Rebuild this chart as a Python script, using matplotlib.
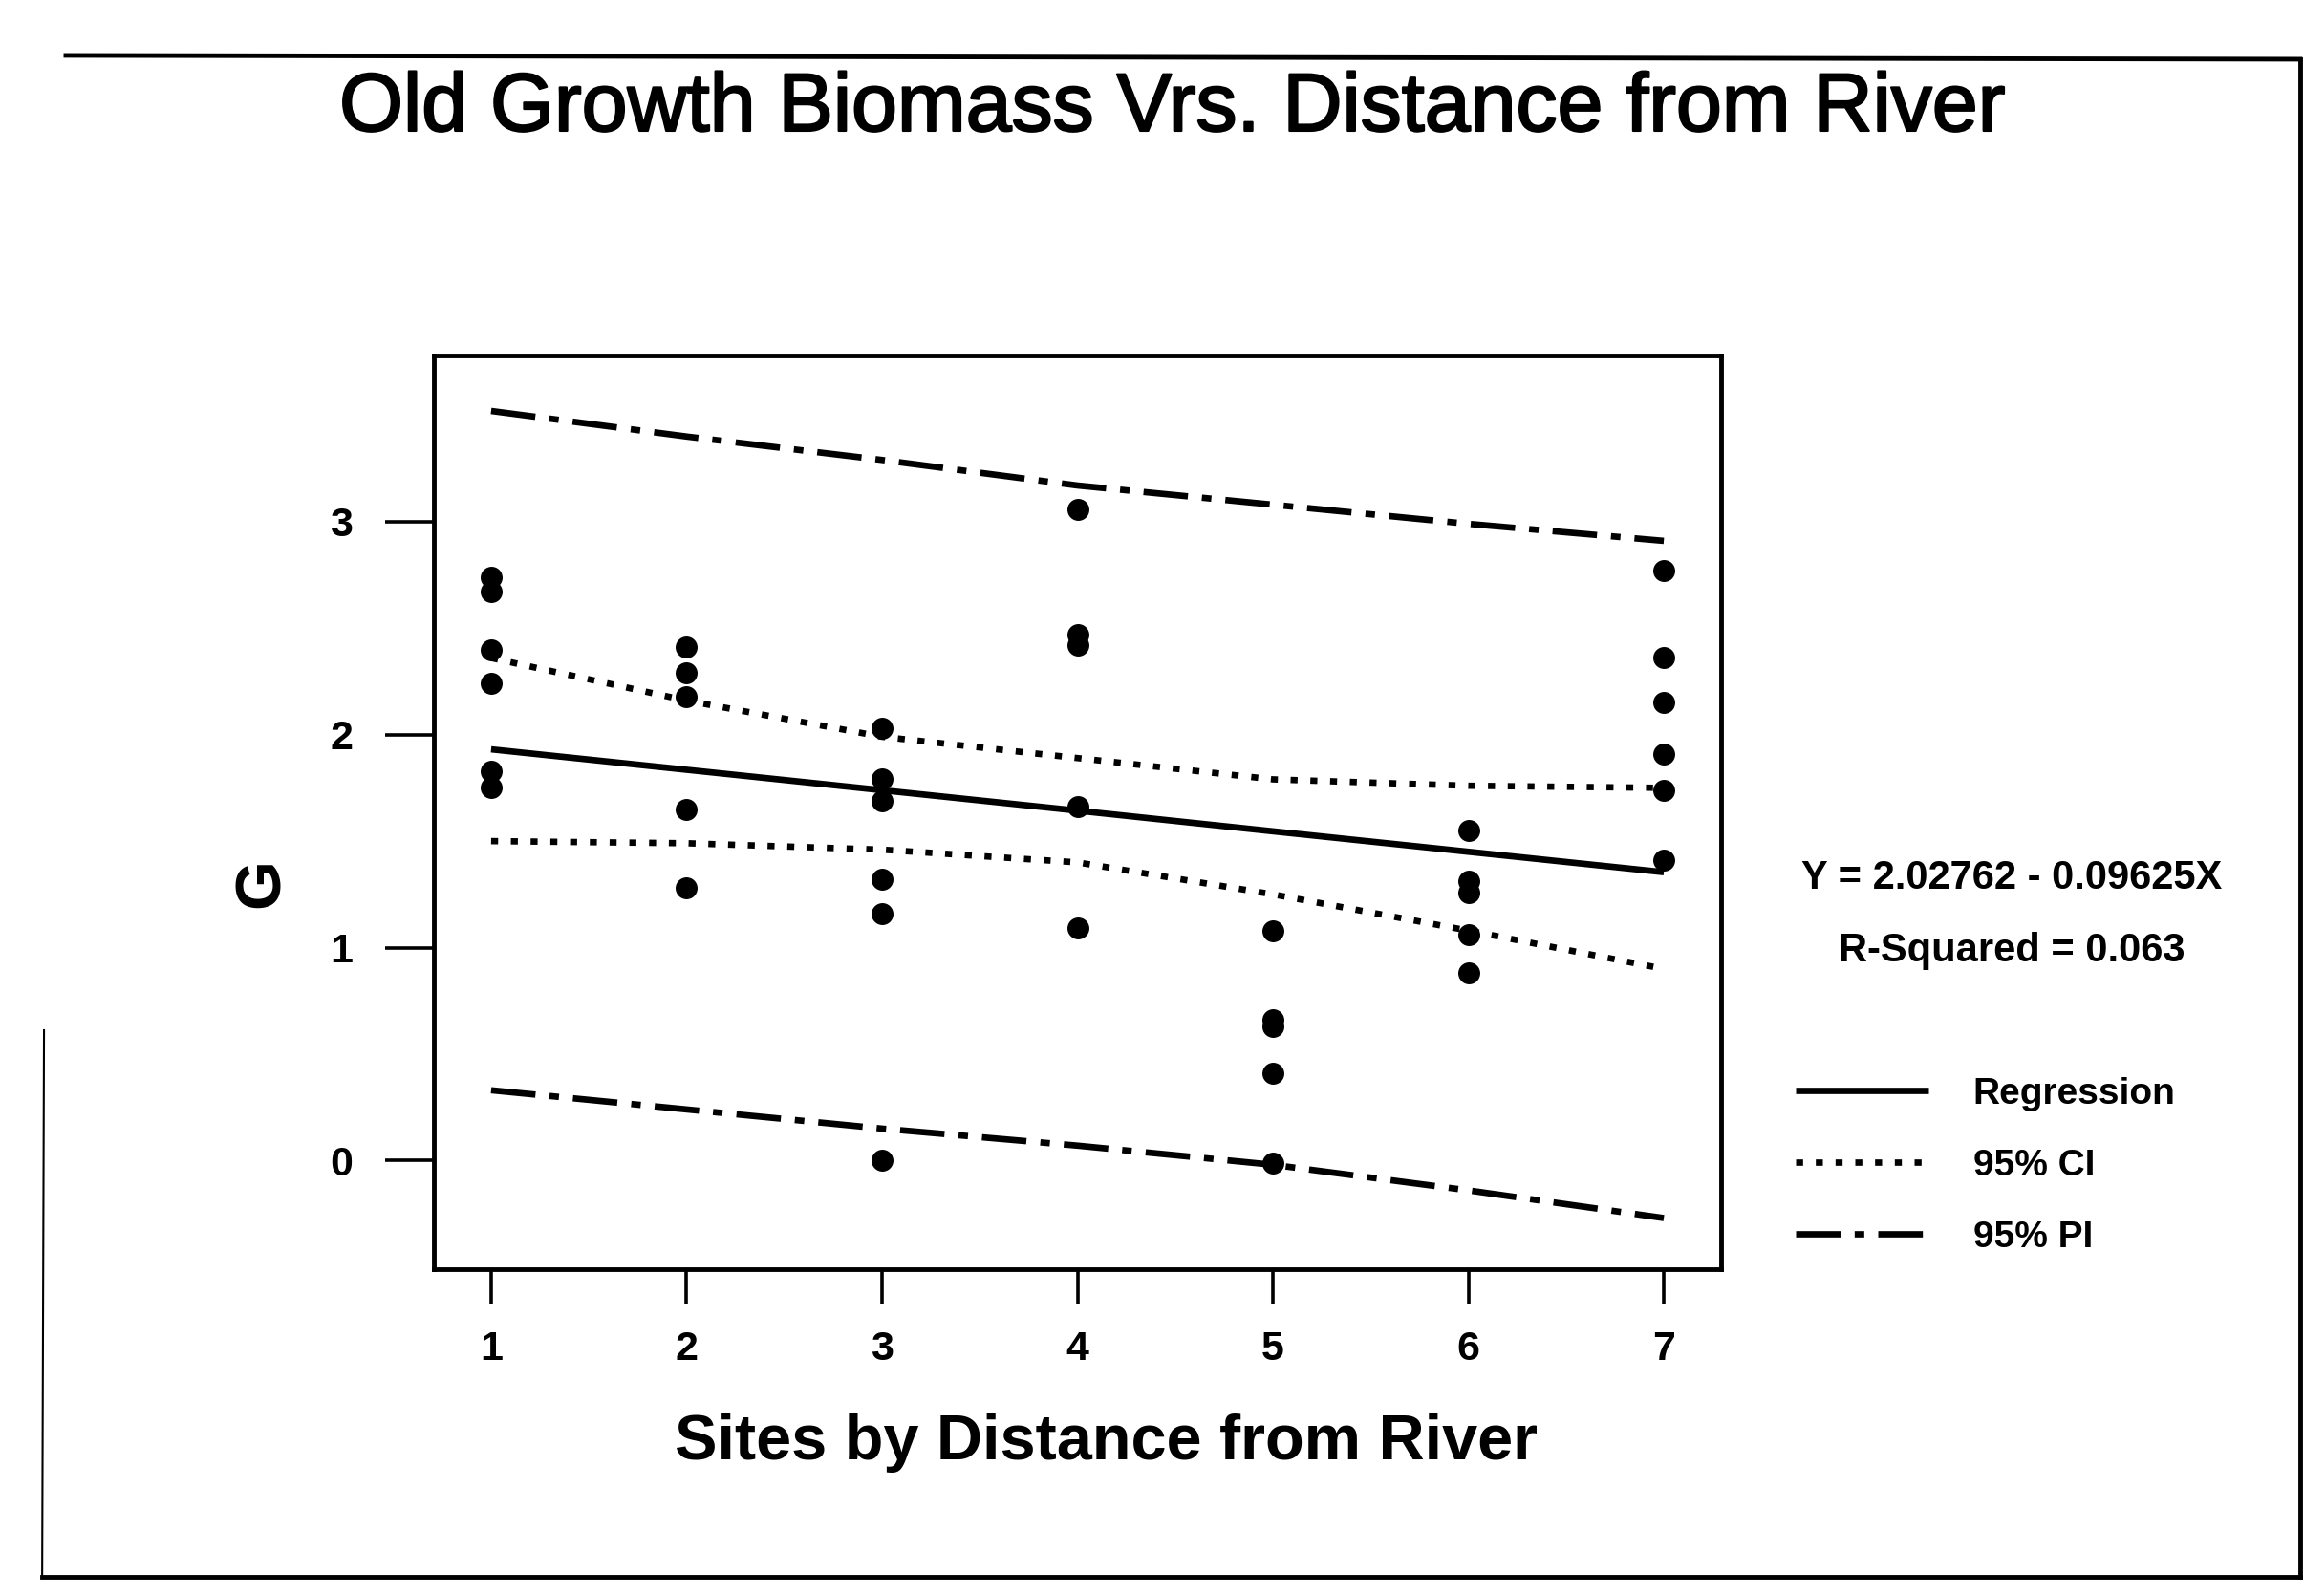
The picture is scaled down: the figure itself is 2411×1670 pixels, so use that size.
import matplotlib
matplotlib.use("Agg")
from matplotlib import pyplot as plt
from matplotlib import patheffects
from matplotlib.lines import Line2D

plt.rcParams['font.family'] = ['Liberation Sans', 'DejaVu Sans']

# biomass (G) per site
sites = [1, 2, 3, 4, 5, 6, 7]
g_by_site = {
    1: [2.74, 2.67, 2.40, 2.24, 1.83, 1.75],
    2: [2.41, 2.29, 2.18, 1.65, 1.28],
    3: [2.03, 1.79, 1.69, 1.32, 1.16, 0.00],
    4: [3.06, 2.47, 2.42, 1.66, 1.09],
    5: [1.08, 0.66, 0.63, 0.41, -0.01],
    6: [1.55, 1.31, 1.26, 1.06, 0.88],
    7: [2.77, 2.36, 2.15, 1.91, 1.74, 1.41],
}

# fitted line and bands at each site
regression = [1.931, 1.835, 1.739, 1.643, 1.546, 1.450, 1.354]
ci_upper = [2.36, 2.16, 1.99, 1.89, 1.79, 1.76, 1.75]
ci_lower = [1.50, 1.49, 1.46, 1.40, 1.25, 1.08, 0.90]
pi_upper = [3.52, 3.40, 3.29, 3.17, 3.08, 2.99, 2.91]
pi_lower = [0.33, 0.24, 0.15, 0.07, -0.02, -0.14, -0.27]

equation = 'Y = 2.02762 - 0.09625X'
r_squared = 'R-Squared = 0.063'

fig = plt.figure(figsize=(24.11, 16.70), dpi=100)
ax = fig.add_axes([0.1883, 0.2048, 0.5587, 0.5724])

for site in sites:
    vals = g_by_site[site]
    ax.plot([site] * len(vals), vals, 'o', color='black', ms=15.5, zorder=3)

dotted = (0, (1.1, 2.0))
dashdot = (0, (7, 2.2, 1.5, 2.2))
reg_line, = ax.plot(sites, regression, color='black', lw=4.8, solid_capstyle='butt')
ci_line, = ax.plot(sites, ci_upper, color='black', lw=4.8, linestyle=dotted)
ax.plot(sites, ci_lower, color='black', lw=4.8, linestyle=dotted)
pi_line, = ax.plot(sites, pi_upper, color='black', lw=4.8, linestyle=dashdot)
ax.plot(sites, pi_lower, color='black', lw=4.8, linestyle=dashdot)

ax.set_xlim(0.707, 7.293)
ax.set_ylim(-0.51, 3.78)
ax.set_xticks(sites)
ax.set_yticks([0, 1, 2, 3])

for spine in ax.spines.values():
    spine.set_linewidth(3.5)
ax.tick_params(axis='x', direction='out', length=26, width=2.6, pad=20, labelsize=31)
ax.tick_params(axis='y', direction='out', length=37, width=2.6, pad=24, labelsize=31)
for lab in ax.get_xticklabels() + ax.get_yticklabels():
    lab.set_fontweight('bold')

ax.set_xlabel('Sites by Distance from River', fontsize=48, fontweight='bold')
ax.xaxis.set_label_coords(0.522, -0.208)
ax.xaxis.label.set_va('baseline')
ax.set_ylabel('G', fontsize=48, fontweight='bold')
ax.yaxis.set_label_coords(-0.133, 0.4226)
ax.yaxis.label.set_va('center')

title = fig.text(0.509, 0.918, 'Old Growth Biomass Vrs. Distance from River',
                 fontsize=62, ha='center', va='baseline')
title.set_path_effects([patheffects.withStroke(linewidth=1.6, foreground='black')])

fig.text(0.873, 0.450, equation, fontsize=30, fontweight='bold', ha='center', va='center')
fig.text(0.873, 0.404, r_squared, fontsize=30, fontweight='bold', ha='center', va='center')

fig.legend([reg_line, ci_line, pi_line], ['Regression', '95% CI', '95% PI'],
           loc='center left', bbox_to_anchor=(0.7795, 0.2695), frameon=False,
           prop={'size': 28, 'weight': 'bold'}, handlelength=3.57, handletextpad=1.2,
           labelspacing=1.0, borderpad=0, borderaxespad=0)

# page frame from the scan
frame = dict(color='black', lw=3.5, transform=fig.transFigure)
fig.add_artist(Line2D([0.0286, 0.9983], [0.9653, 0.9629], **frame))
fig.add_artist(Line2D([0.9983, 0.9983], [0.9629, 0.0120], **frame))
fig.add_artist(Line2D([0.0183, 0.9983], [0.0120, 0.0120], **frame))
fig.add_artist(Line2D([0.0191, 0.0183], [0.3545, 0.0120], color='black', lw=1.5,
                      transform=fig.transFigure))

fig.savefig('out.png', dpi=100)
